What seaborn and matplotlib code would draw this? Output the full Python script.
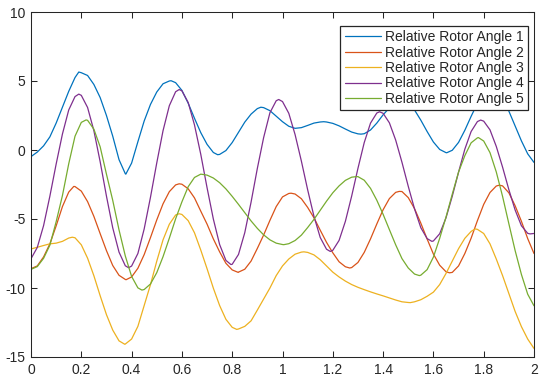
import matplotlib
matplotlib.use("Agg")
import matplotlib.pyplot as plt
from matplotlib.ticker import FuncFormatter
import seaborn as sns
import pandas as pd

# time axis (s)
t = [0.0, 0.025, 0.05, 0.075, 0.1, 0.125, 0.15, 0.175,
     0.2, 0.225, 0.25, 0.275, 0.3, 0.325, 0.35, 0.375,
     0.4, 0.425, 0.45, 0.475, 0.5, 0.525, 0.55, 0.575,
     0.6, 0.625, 0.65, 0.675, 0.7, 0.725, 0.75, 0.775,
     0.8, 0.825, 0.85, 0.875, 0.9, 0.925, 0.95, 0.975,
     1.0, 1.025, 1.05, 1.075, 1.1, 1.125, 1.15, 1.175,
     1.2, 1.225, 1.25, 1.275, 1.3, 1.325, 1.35, 1.375,
     1.4, 1.425, 1.45, 1.475, 1.5, 1.525, 1.55, 1.575,
     1.6, 1.625, 1.65, 1.675, 1.7, 1.725, 1.75, 1.775,
     1.8, 1.825, 1.85, 1.875, 1.9, 1.925, 1.95, 1.975,
     2.0]

angle1 = [-0.48, -0.15, 0.3, 0.95, 1.95, 3.1, 4.25, 5.25,
          5.6, 5.4, 4.75, 3.8, 2.5, 1.0, -0.7, -1.72,
          -0.95, 0.6, 2.1, 3.3, 4.2, 4.8, 5.0, 4.88,
          4.32, 3.39, 2.3, 1.26, 0.41, -0.18, -0.32, -0.04,
          0.54, 1.28, 2.02, 2.6, 3.0, 3.07, 2.85, 2.45,
          2.05, 1.72, 1.58, 1.62, 1.78, 1.95, 2.03, 2.03,
          1.93, 1.75, 1.52, 1.3, 1.17, 1.18, 1.45, 1.95,
          2.55, 3.05, 3.4, 3.6, 3.35, 2.9, 2.16, 1.34,
          0.58, 0.04, -0.19, -0.02, 0.55, 1.43, 2.44, 3.38,
          4.09, 4.45, 4.33, 3.77, 2.82, 1.74, 0.66, -0.28,
          -0.9]

angle2 = [-8.6, -8.4, -7.75, -6.8, -5.5, -4.1, -3.05, -2.65,
          -2.98, -3.74, -4.81, -6.06, -7.29, -8.37, -9.08, -9.38,
          -9.2, -8.57, -7.58, -6.35, -5.07, -3.9, -3.02, -2.53,
          -2.48, -2.81, -3.47, -4.43, -5.37, -6.44, -7.38, -8.21,
          -8.69, -8.85, -8.64, -8.05, -7.13, -6.16, -5.1, -4.1,
          -3.4, -3.15, -3.19, -3.53, -4.16, -4.91, -5.81, -6.69,
          -7.45, -8.1, -8.46, -8.52, -8.15, -7.42, -6.44, -5.36,
          -4.33, -3.52, -3.07, -3.01, -3.45, -4.25, -5.3, -6.45,
          -7.54, -8.35, -8.82, -8.87, -8.4, -7.5, -6.39, -5.12,
          -3.94, -3.08, -2.61, -2.6, -3.1, -4.04, -5.17, -6.42,
          -7.5]

angle3 = [-7.17, -7.05, -6.92, -6.8, -6.75, -6.62, -6.38, -6.36,
          -6.87, -7.84, -9.11, -10.56, -11.93, -13.05, -13.83, -14.06,
          -13.7, -12.78, -11.27, -9.76, -8.06, -6.51, -5.38, -4.71,
          -4.67, -5.12, -6.0, -7.25, -8.6, -10.01, -11.27, -12.27,
          -12.85, -12.97, -12.78, -12.38, -11.6, -10.8, -10.0, -9.1,
          -8.4, -7.9, -7.55, -7.4, -7.42, -7.6, -7.95, -8.4,
          -8.85, -9.2, -9.5, -9.75, -9.95, -10.12, -10.28, -10.43,
          -10.57, -10.72, -10.87, -11.0, -11.05, -11.0, -10.85, -10.6,
          -10.3, -9.75, -8.95, -8.05, -7.15, -6.4, -5.9, -5.75,
          -6.05, -6.8, -7.9, -9.1, -10.4, -11.7, -12.8, -13.7,
          -14.38]

angle4 = [-7.88, -7.06, -5.48, -3.35, -1.02, 1.16, 2.9, 3.87,
          3.96, 3.08, 1.4, -0.85, -3.34, -5.64, -7.4, -8.39,
          -8.41, -7.5, -5.72, -3.43, -0.94, 1.4, 3.21, 4.22,
          4.29, 3.44, 1.82, -0.31, -2.73, -5.0, -6.85, -8.0,
          -8.28, -7.57, -5.99, -3.78, -1.33, 0.9, 2.7, 3.57,
          3.51, 2.66, 1.12, -0.8, -2.88, -4.8, -6.34, -7.19,
          -7.27, -6.55, -5.17, -3.34, -1.33, 0.54, 1.95, 2.68,
          2.66, 1.97, 0.72, -0.89, -2.63, -4.27, -5.63, -6.42,
          -6.59, -6.07, -4.92, -3.35, -1.61, 0.06, 1.34, 2.06,
          2.09, 1.46, 0.26, -1.24, -2.87, -4.35, -5.49, -6.04,
          -6.05]

angle5 = [-8.65, -8.45, -7.85, -6.9, -5.2, -3.3, -1.0, 1.0,
          2.0, 2.15, 1.51, 0.23, -1.75, -3.65, -5.79, -7.68,
          -9.16, -9.99, -10.11, -9.71, -8.89, -7.73, -6.39, -4.99,
          -3.76, -2.66, -1.99, -1.75, -1.82, -2.03, -2.37, -2.82,
          -3.36, -3.94, -4.54, -5.14, -5.68, -6.15, -6.51, -6.75,
          -6.85, -6.79, -6.56, -6.17, -5.62, -5.03, -4.37, -3.71,
          -3.1, -2.6, -2.2, -1.97, -1.93, -2.19, -2.78, -3.64,
          -4.66, -5.77, -6.87, -7.87, -8.55, -8.99, -9.07, -8.67,
          -7.76, -6.4, -4.87, -3.2, -1.6, -0.41, 0.52, 0.88,
          0.65, -0.19, -1.59, -3.36, -5.34, -7.29, -9.02, -10.45,
          -11.29]

# turning points (time, value), one list per curve
angle1_ext_t = [0.19, 0.377, 0.557, 0.742, 0.914, 1.05, 1.164, 1.312, 1.475, 1.653, 1.832]
angle1_ext_v = [5.65, -1.75, 5.02, -0.34, 3.1, 1.57, 2.05, 1.15, 3.62, -0.2, 4.47]
angle2_ext_t = [0.17, 0.378, 0.589, 0.824, 1.034, 1.267, 1.464, 1.664, 1.862]
angle2_ext_v = [-2.64, -9.4, -2.45, -8.87, -3.13, -8.55, -3.0, -8.9, -2.55]
angle3_ext_t = [0.164, 0.373, 0.589, 0.818, 1.085, 1.508, 1.766]
angle3_ext_v = [-6.32, -14.08, -4.62, -13.0, -7.38, -11.06, -5.72]
angle4_ext_t = [0.19, 0.388, 0.589, 0.795, 0.985, 1.19, 1.386, 1.594, 1.788, 1.984]
angle4_ext_v = [4.05, -8.53, 4.38, -8.3, 3.66, -7.35, 2.77, -6.62, 2.17, -6.08]
angle5_ext_t = [0.219, 0.441, 0.675, 1.005, 1.294, 1.544, 1.779]
angle5_ext_v = [2.18, -10.15, -1.75, -6.86, -1.93, -9.1, 0.9]

names = ["Relative Rotor Angle 1", "Relative Rotor Angle 2",
         "Relative Rotor Angle 3", "Relative Rotor Angle 4",
         "Relative Rotor Angle 5"]
series = [angle1, angle2, angle3, angle4, angle5]
ext_t = [angle1_ext_t, angle2_ext_t, angle3_ext_t, angle4_ext_t, angle5_ext_t]
ext_v = [angle1_ext_v, angle2_ext_v, angle3_ext_v, angle4_ext_v, angle5_ext_v]
colors = ["#0072BD", "#D95319", "#EDB120", "#7E2F8E", "#77AC30"]

x_ticks = [0, 0.2, 0.4, 0.6, 0.8, 1.0, 1.2, 1.4, 1.6, 1.8, 2.0]
y_ticks = [-15, -10, -5, 0, 5, 10]

sns.set_theme(style="white")
plt.rcParams["font.family"] = ["Liberation Sans", "DejaVu Sans"]

rows = []
for name, vals, et, ev in zip(names, series, ext_t, ext_v):
    pts = {}
    for tx, v in zip(t, vals):
        pts[round(tx, 4)] = v
    for tx, v in zip(et, ev):
        pts[round(tx, 4)] = v
    for tx in sorted(pts):
        rows.append({"t": tx, "angle": pts[tx], "series": name})
df = pd.DataFrame(rows)

fig = plt.figure(figsize=(5.42, 3.80), dpi=100)
ax = fig.add_axes([31 / 542, 1 - 357 / 380, 503 / 542, 345 / 380])

sns.lineplot(data=df, x="t", y="angle", hue="series", hue_order=names,
             palette=colors, estimator=None, sort=False, linewidth=0.9,
             ax=ax, legend=True)

ax.set_xlim(0, 2)
ax.set_ylim(-15, 10)
ax.set_xticks(x_ticks)
ax.set_yticks(y_ticks)
ax.xaxis.set_major_formatter(FuncFormatter(lambda v, p: f"{v:g}"))
ax.yaxis.set_major_formatter(FuncFormatter(lambda v, p: f"{v:g}"))
ax.set_xlabel("")
ax.set_ylabel("")

dark = "#262626"
for sp in ax.spines.values():
    sp.set_color(dark)
    sp.set_linewidth(0.75)
    sp.set_visible(True)
ax.tick_params(direction="in", length=4, width=0.75, color=dark,
               labelcolor=dark, labelsize=10, top=True, right=True,
               bottom=True, left=True, pad=4)

leg = ax.legend(loc="upper right", bbox_to_anchor=(0.988, 0.959),
                borderaxespad=0, fontsize=10, frameon=True, fancybox=False,
                framealpha=1, edgecolor=dark, handlelength=2.6,
                handletextpad=0.3, labelspacing=0.1, borderpad=0.3)
leg.get_frame().set_linewidth(0.9)
for txt in leg.get_texts():
    txt.set_color(dark)

fig.savefig("out.png", dpi=100, facecolor="white")
